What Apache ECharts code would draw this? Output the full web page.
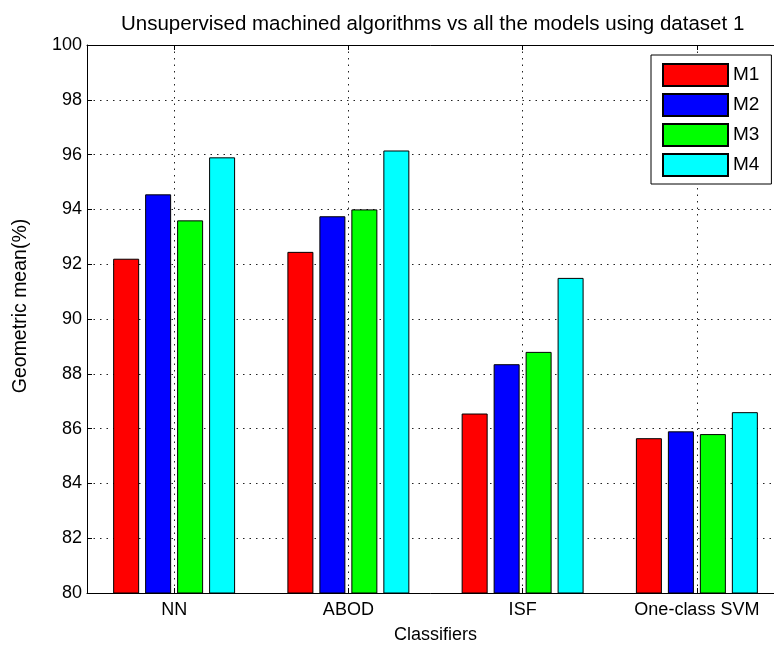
<!DOCTYPE html>
<html>
<head>
<meta charset="utf-8">
<script src="https://cdn.jsdelivr.net/npm/echarts@6/dist/echarts.min.js"></script>
<style>
  html, body { margin: 0; padding: 0; background: #fff; }
  #chart { width: 774px; height: 650px; }
</style>
</head>
<body>
<div id="chart"></div>
<script>
// Classifiers on the x axis, one bar per model in each group
const categories = ['NN', 'ABOD', 'ISF', 'One-class SVM'];
const seriesNames = ['M1', 'M2', 'M3', 'M4'];
const m1 = [92.2, 92.45, 86.55, 85.65];
const m2 = [94.55, 93.75, 88.35, 85.9];
const m3 = [93.6, 94.0, 88.8, 85.8];
const m4 = [95.9, 96.15, 91.5, 86.6];
const seriesValues = [m1, m2, m3, m4];
const seriesColors = ['#ff0000', '#0000ff', '#00ff00', '#00ffff'];
const yTicks = { min: 80, max: 100, step: 2 };

const FONT = '"Liberation Sans", Arial, sans-serif';
const dotted = { color: '#222', width: 1, type: [1.5, 5] };

const chart = echarts.init(document.getElementById('chart'));

chart.setOption({
  backgroundColor: '#fff',
  animation: false,
  textStyle: { fontFamily: FONT, color: '#000' },
  title: {
    text: 'Unsupervised machined algorithms vs all the models using dataset 1',
    left: 116,
    top: 9,
    textStyle: { fontFamily: FONT, fontSize: 20.5, fontWeight: 'normal', color: '#000' }
  },
  legend: {
    orient: 'vertical',
    left: 651,
    top: 55,
    padding: [8, 12, 7, 11],
    itemWidth: 65,
    itemHeight: 22,
    itemGap: 6,
    icon: 'rect',
    backgroundColor: '#fff',
    borderColor: '#000',
    borderWidth: 1,
    data: seriesNames,
    textStyle: { fontFamily: FONT, fontSize: 19, lineHeight: 22, color: '#000', padding: [0, 0, 0, 0] }
  },
  grid: {
    left: 87, top: 45, width: 697, height: 548,
    containLabel: false,
    outerBoundsMode: 'none'
  },
  xAxis: [
    {
      type: 'category',
      data: categories,
      position: 'bottom',
      name: 'Classifiers',
      nameLocation: 'middle',
      nameGap: 33,
      nameTextStyle: { fontFamily: FONT, fontSize: 18, color: '#000' },
      axisLine: { show: true, lineStyle: { color: '#000', width: 1 } },
      axisTick: { show: true, inside: true, length: 5, alignWithLabel: true, lineStyle: { color: '#000' } },
      axisLabel: { fontFamily: FONT, fontSize: 18, color: '#000', margin: 8 },
      splitLine: { show: true, alignWithLabel: true, lineStyle: dotted }
    },
    {
      type: 'category',
      data: categories,
      position: 'top',
      axisLine: { show: true, lineStyle: { color: '#000', width: 1 } },
      axisTick: { show: true, inside: true, length: 5, alignWithLabel: true, lineStyle: { color: '#000' } },
      axisLabel: { show: false },
      splitLine: { show: false }
    }
  ],
  yAxis: {
    type: 'value',
    min: yTicks.min,
    max: yTicks.max,
    interval: yTicks.step,
    name: 'Geometric mean(%)',
    nameLocation: 'middle',
    nameGap: 56,
    nameTextStyle: { fontFamily: FONT, fontSize: 19.5, color: '#000', padding: [0, 0, 0, 26] },
    axisLine: { show: true, lineStyle: { color: '#000', width: 1 } },
    axisTick: { show: true, inside: true, length: 5, lineStyle: { color: '#000' } },
    axisLabel: { fontFamily: FONT, fontSize: 18, color: '#000', margin: 5 },
    splitLine: { show: true, lineStyle: dotted }
  },
  series: seriesNames.map((name, i) => ({
    name: name,
    type: 'bar',
    xAxisIndex: 0,
    data: seriesValues[i],
    barWidth: 26,
    barGap: '23%',
    itemStyle: { color: seriesColors[i], borderColor: '#000', borderWidth: 1 }
  }))
});
</script>
</body>
</html>
